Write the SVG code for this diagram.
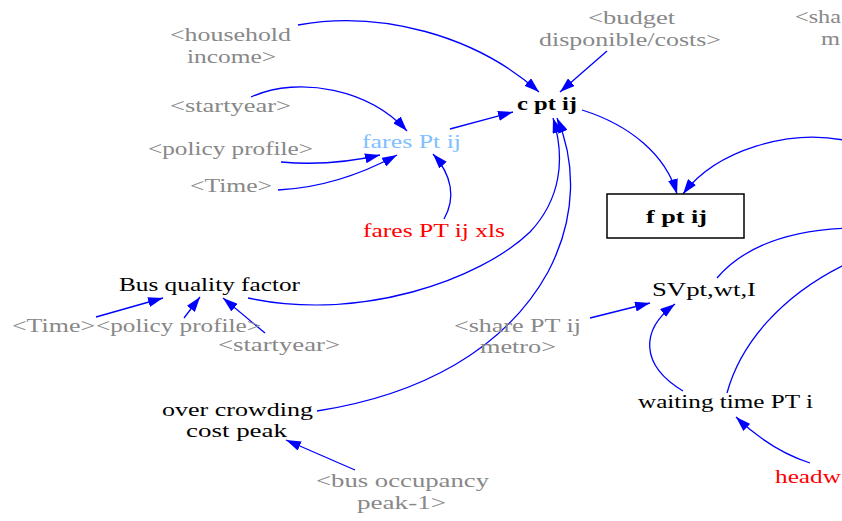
<svg xmlns="http://www.w3.org/2000/svg" width="842" height="521" viewBox="0 0 842 521">
<style>
text{font-family:"Liberation Serif","Times New Roman",serif;font-size:19px}
.g{fill:#888888}
.k{fill:#000000}
.b{fill:#000000;font-weight:bold}
.r{fill:#ff0000}
.lb{fill:#80c0ff}
.e{fill:none;stroke:#0000ff;stroke-width:1.3}
.box{fill:#ffffff;stroke:#000000;stroke-width:1.5}
</style>
<defs>
<marker id="ah" viewBox="0 0 15 10" refX="15" refY="5" markerWidth="15" markerHeight="10" markerUnits="userSpaceOnUse" orient="auto">
<path d="M0,0 L15,5 L0,10 z" fill="#0000ff"/>
</marker>
</defs>
<rect width="842" height="521" fill="#ffffff"/>

<g id="connectors">
<path class="e" marker-end="url(#ah)" d="M298,25 C380,10 475,35 539,92"/>
<path class="e" marker-end="url(#ah)" d="M607,51 L560,92"/>
<path class="e" marker-end="url(#ah)" d="M450,129 L513,112"/>
<path class="e" marker-end="url(#ah)" d="M582,110 C630,125 666,155 677,194"/>
<path class="e" marker-end="url(#ah)" d="M848,141 C790,128 716,150 683,194"/>
<path class="e" marker-end="url(#ah)" d="M444,219 C456,198 452,175 433,154"/>
<path class="e" marker-end="url(#ah)" d="M251,97 C300,75 370,90 407,131"/>
<path class="e" marker-end="url(#ah)" d="M281,162 C315,165 350,162 380,155"/>
<path class="e" marker-end="url(#ah)" d="M278,190 C320,188 360,175 397,155"/>
<path class="e" marker-end="url(#ah)" d="M248,298 C360,322 480,280 530,232 C560,200 566,160 553,118"/>
<path class="e" marker-end="url(#ah)" d="M317,411 C420,395 505,350 548,272 C578,215 575,160 557,118"/>
<path class="e" marker-end="url(#ah)" d="M590,318 L650,303"/>
<path class="e" marker-end="url(#ah)" d="M683,391 C640,365 640,330 675,304"/>
<path class="e" d="M717,278 C745,245 790,230 850,228"/>
<path class="e" d="M727,393 C740,345 780,295 850,262"/>
<path class="e" marker-end="url(#ah)" d="M810,463 C785,455 760,440 736,417"/>
<path class="e" marker-end="url(#ah)" d="M355,470 L286,440"/>
<path class="e" marker-end="url(#ah)" d="M96,317 L163,298"/>
<path class="e" marker-end="url(#ah)" d="M184,318 L200,297"/>
<path class="e" marker-end="url(#ah)" d="M265,333 L223,298"/>
</g>

<g id="household-income"><text class="g" x="170" y="41" textLength="121" lengthAdjust="spacingAndGlyphs">&lt;household</text><text class="g" x="187" y="63" textLength="89" lengthAdjust="spacingAndGlyphs">income&gt;</text></g>
<g id="budget"><text class="g" x="588" y="24" textLength="87" lengthAdjust="spacingAndGlyphs">&lt;budget</text><text class="g" x="539" y="46" textLength="182" lengthAdjust="spacingAndGlyphs">disponible/costs&gt;</text></g>
<g id="share-top"><text class="g" x="795" y="23" textLength="46" lengthAdjust="spacingAndGlyphs">&lt;sha</text><text class="g" x="821" y="45" textLength="19" lengthAdjust="spacingAndGlyphs">m</text></g>
<g id="startyear-1"><text class="g" x="170" y="112" textLength="121" lengthAdjust="spacingAndGlyphs">&lt;startyear&gt;</text></g>
<g id="policy-1"><text class="g" x="148" y="155" textLength="165" lengthAdjust="spacingAndGlyphs">&lt;policy profile&gt;</text></g>
<g id="time-1"><text class="g" x="190" y="192" textLength="82" lengthAdjust="spacingAndGlyphs">&lt;Time&gt;</text></g>
<g id="fares-pt"><text class="lb" x="362" y="148" textLength="99" lengthAdjust="spacingAndGlyphs">fares Pt ij</text></g>
<g id="fares-xls"><text class="r" x="363" y="237" textLength="142" lengthAdjust="spacingAndGlyphs">fares PT ij xls</text></g>
<g id="c-pt"><text class="b" x="517" y="110" textLength="60" lengthAdjust="spacingAndGlyphs">c pt ij</text></g>
<g id="f-pt"><rect class="box" x="607" y="194" width="137" height="44"/><text class="b" x="646" y="223" textLength="61" lengthAdjust="spacingAndGlyphs">f pt ij</text></g>
<g id="bus-quality"><text class="k" x="119" y="291" textLength="181" lengthAdjust="spacingAndGlyphs">Bus quality factor</text></g>
<g id="time-2"><text class="g" x="12" y="332" textLength="83" lengthAdjust="spacingAndGlyphs">&lt;Time&gt;</text></g>
<g id="policy-2"><text class="g" x="96" y="332" textLength="165" lengthAdjust="spacingAndGlyphs">&lt;policy profile&gt;</text></g>
<g id="startyear-2"><text class="g" x="218" y="351" textLength="122" lengthAdjust="spacingAndGlyphs">&lt;startyear&gt;</text></g>
<g id="share-mid"><text class="g" x="454" y="332" textLength="127" lengthAdjust="spacingAndGlyphs">&lt;share PT ij</text><text class="g" x="480" y="353" textLength="76" lengthAdjust="spacingAndGlyphs">metro&gt;</text></g>
<g id="sv"><text class="k" x="652" y="296" textLength="104" lengthAdjust="spacingAndGlyphs">SVpt,wt,I</text></g>
<g id="waiting"><text class="k" x="638" y="408" textLength="175" lengthAdjust="spacingAndGlyphs">waiting time PT i</text></g>
<g id="overcrowding"><text class="k" x="162" y="416" textLength="151" lengthAdjust="spacingAndGlyphs">over crowding</text><text class="k" x="186" y="437" textLength="101" lengthAdjust="spacingAndGlyphs">cost peak</text></g>
<g id="bus-occupancy"><text class="g" x="316" y="487" textLength="173" lengthAdjust="spacingAndGlyphs">&lt;bus occupancy</text><text class="g" x="357" y="509" textLength="89" lengthAdjust="spacingAndGlyphs">peak-1&gt;</text></g>
<g id="headway"><text class="r" x="775" y="483" textLength="66" lengthAdjust="spacingAndGlyphs">headw</text></g>
</svg>
